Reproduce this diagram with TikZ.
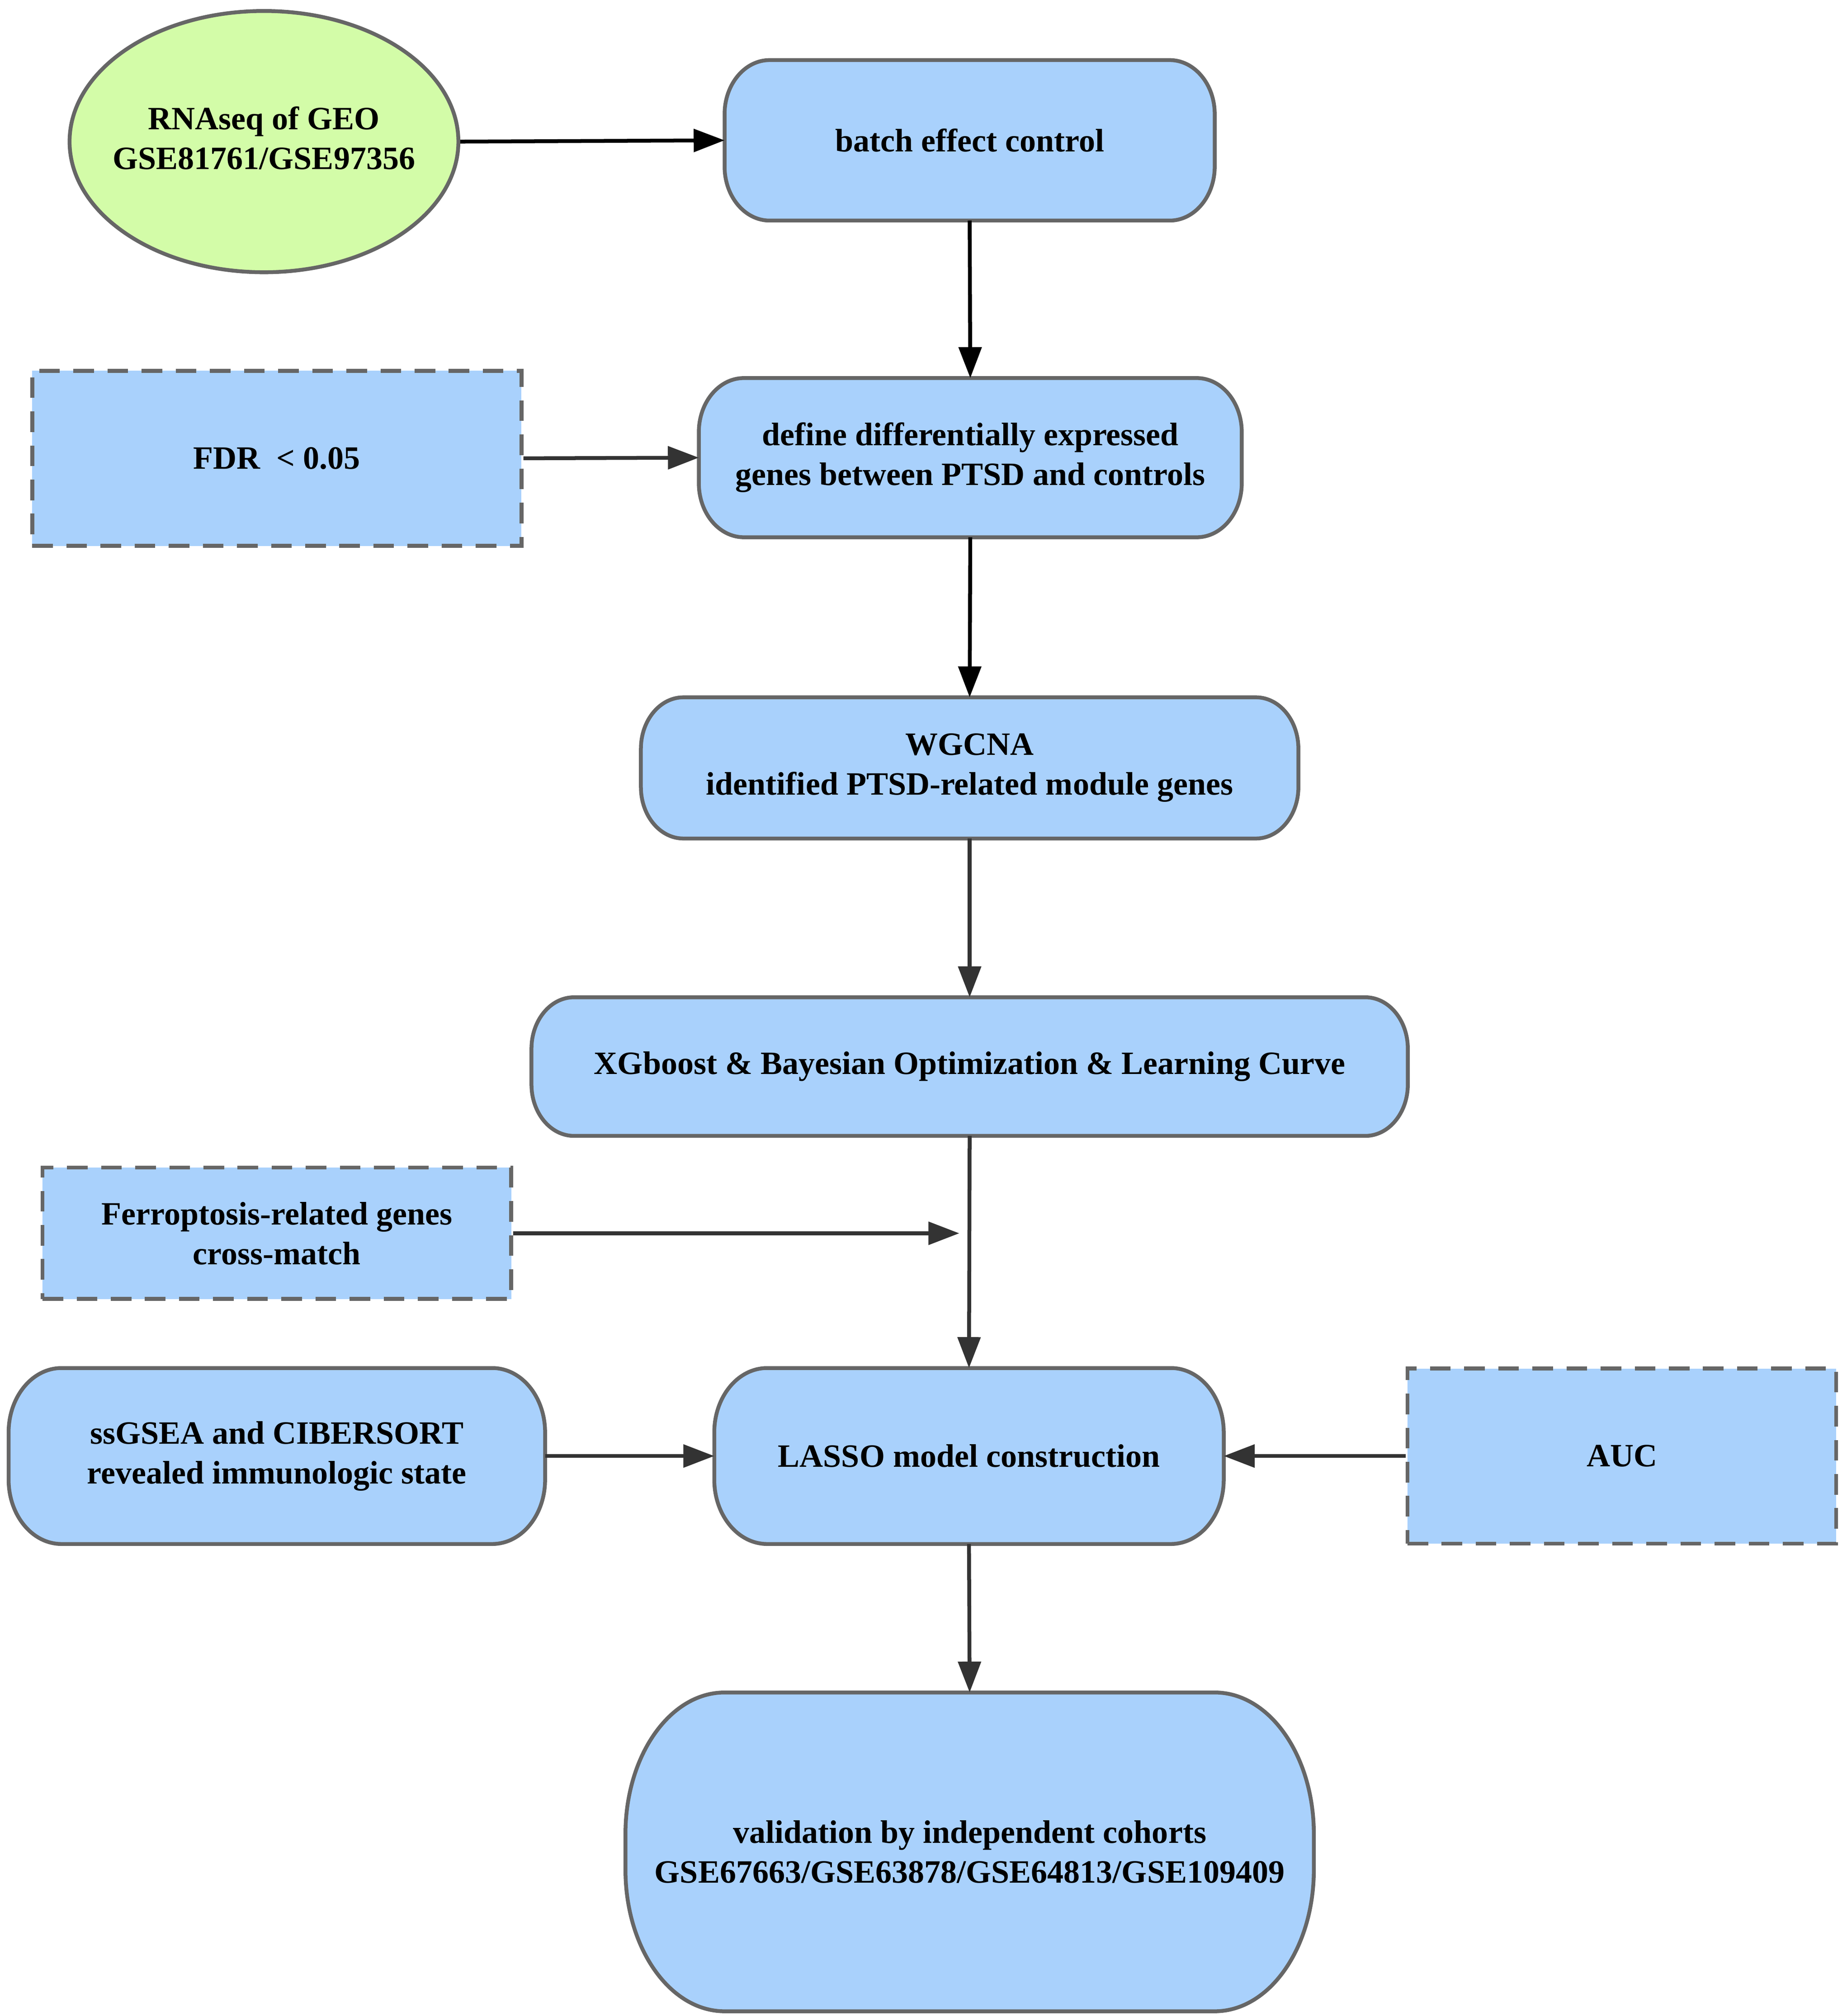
\documentclass[tikz,border=0pt]{standalone}
\usepackage{fontspec}
\setmainfont{Liberation Serif}
\usetikzlibrary{shapes.geometric,calc,arrows.meta,backgrounds}
\definecolor{boxblue}{RGB}{169,209,252}
\definecolor{boxgreen}{RGB}{211,252,168}
\definecolor{edgegray}{RGB}{102,102,102}
\definecolor{arrowgray}{RGB}{51,51,51}
\newcommand{\rbox}[3]{%
  \path[roundfill] ($(#1.north west)+(#2,0)$) -- ($(#1.north east)+(-#2,0)$)
    arc[start angle=90,end angle=0,x radius=#2,y radius=#3]
    -- ($(#1.south east)+(0,#3)$)
    arc[start angle=0,end angle=-90,x radius=#2,y radius=#3]
    -- ($(#1.south west)+(#2,0)$)
    arc[start angle=270,end angle=180,x radius=#2,y radius=#3]
    -- ($(#1.north west)+(0,-#3)$)
    arc[start angle=180,end angle=90,x radius=#2,y radius=#3] -- cycle;}
\begin{document}
\begin{tikzpicture}[x=0.02cm,y=0.02cm,
  font=\fontsize{14.4}{17.6}\selectfont\bfseries,
  txtbox/.style={inner sep=0pt, align=center},
  roundfill/.style={draw=edgegray, fill=boxblue, line width=1.7pt},
  dashbox/.style={inner sep=0pt, align=center, draw=edgegray, fill=boxblue, line width=1.7pt, dash pattern=on 0.32cm off 0.21cm},
  ovalbox/.style={ellipse, inner sep=0pt, draw=edgegray, fill=boxgreen, line width=1.7pt},
  arr/.style={line width=1.7pt, draw=arrowgray, -{Triangle[length=0.48cm,width=0.35cm]}, arrowgray},
  arrblack/.style={line width=1.7pt, draw=black, -{Triangle[length=0.48cm,width=0.35cm]}, black}]
\useasboundingbox (0,0) rectangle (1434,-1566);

\node[ovalbox, minimum width=6.04cm, minimum height=4.06cm] (rna) at (205,-110)
  {\makebox[0pt][c]{\begin{tabular}{@{}c@{}}RNAseq of GEO\\GSE81761/GSE97356\end{tabular}}};
\node[txtbox, minimum width=7.6cm, minimum height=2.48cm] (batch) at (753,-109) {batch effect control};
\node[dashbox, minimum width=7.6cm, minimum height=2.72cm] (fdr) at (215,-356) {FDR~ < 0.05};
\node[txtbox, minimum width=8.42cm, minimum height=2.46cm] (deg) at (753.5,-355.5) {define differentially expressed\\genes between PTSD and controls};
\node[txtbox, minimum width=10.2cm, minimum height=2.18cm] (wgcna) at (753,-596.5) {WGCNA\\identified PTSD-related module genes};
\node[txtbox, minimum width=13.6cm, minimum height=2.14cm] (xgb) at (753,-828.5) {XGboost \& Bayesian Optimization \& Learning Curve};
\node[dashbox, minimum width=7.28cm, minimum height=2.04cm] (ferro) at (215,-958) {Ferroptosis-related genes\\cross-match};
\node[txtbox, minimum width=8.32cm, minimum height=2.72cm] (ssgsea) at (215,-1131) {ssGSEA and CIBERSORT\\revealed immunologic state};
\node[txtbox, minimum width=7.9cm, minimum height=2.72cm] (lasso) at (752.5,-1131) {LASSO model construction};
\node[dashbox, minimum width=6.66cm, minimum height=2.72cm] (auc) at (1259.5,-1131) {AUC};
\node[txtbox, minimum width=10.68cm, minimum height=4.94cm] (valid) at (753,-1438.5) {validation by independent cohorts\\GSE67663/GSE63878/GSE64813/GSE109409};
\coordinate (ferroend) at (745,-958);

\begin{scope}[on background layer]
\rbox{batch}{35}{42}
\rbox{deg}{35}{42}
\rbox{wgcna}{33}{40}
\rbox{xgb}{33}{40}
\rbox{ssgsea}{41}{50}
\rbox{lasso}{41}{50}
\rbox{valid}{77}{110}
\end{scope}

\draw[arrblack] (rna.east) -- (batch.west);
\draw[arrblack] (batch.south) -- (deg.north);
\draw[arr] (fdr.east) -- (deg.west);
\draw[arrblack] (deg.south) -- (wgcna.north);
\draw[arr] (wgcna.south) -- (xgb.north);
\draw[arr] (xgb.south) -- (lasso.north);
\draw[arr] (ferro.east) -- (ferroend);
\draw[arr] (ssgsea.east) -- (lasso.west);
\draw[arr] (auc.west) -- (lasso.east);
\draw[arr] (lasso.south) -- (valid.north);
\end{tikzpicture}
\end{document}
